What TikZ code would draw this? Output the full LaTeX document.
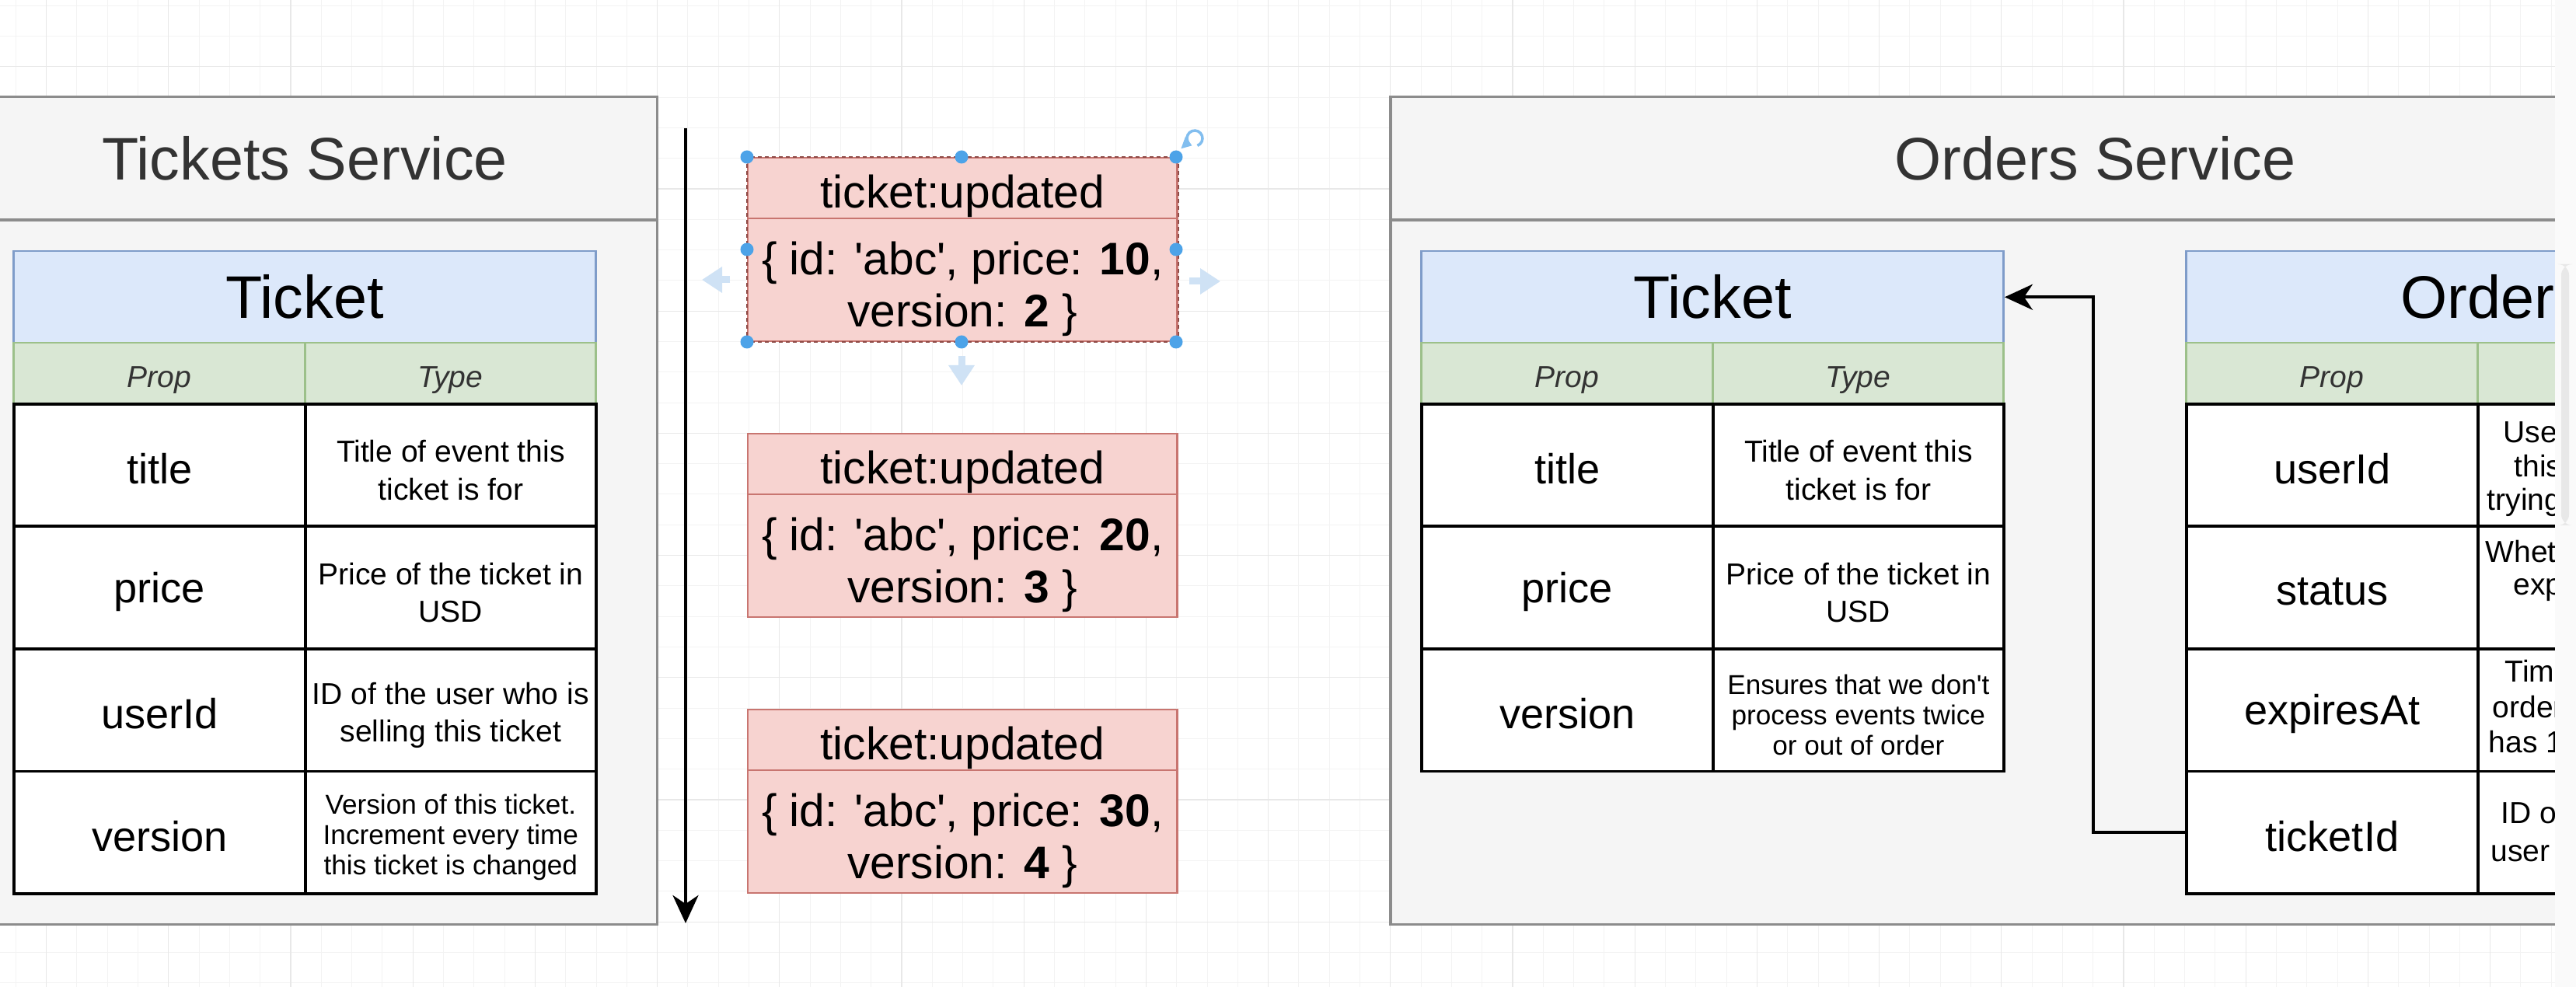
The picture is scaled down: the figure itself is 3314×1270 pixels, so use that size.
\documentclass[tikz,border=0pt]{standalone}
\usepackage{fontspec}
\setmainfont{Liberation Sans}
\usetikzlibrary{arrows.meta}
\newcommand\pxf[2]{\fontsize{#1pt}{#2pt}\selectfont}
\definecolor{svcfill}{HTML}{F5F5F5}
\definecolor{svcline}{HTML}{8C8C8C}
\definecolor{svctext}{HTML}{333333}
\definecolor{headfill}{HTML}{DCE8FA}
\definecolor{headline}{HTML}{7F9CC9}
\definecolor{colfill}{HTML}{D9E7D4}
\definecolor{colline}{HTML}{9CC08A}
\definecolor{evfill}{HTML}{F7D3D0}
\definecolor{evline}{HTML}{C87570}
\definecolor{selline}{HTML}{8E4A46}
\definecolor{gridminor}{HTML}{F3F3F3}
\definecolor{gridmajor}{HTML}{E8E8E8}
\definecolor{handle}{HTML}{4DA3E8}
\definecolor{hover}{HTML}{CFE2F5}
\definecolor{stripfill}{HTML}{FAFAFA}
\definecolor{scrollfill}{HTML}{E8E8E8}
\begin{document}
\begin{tikzpicture}[x=0.01cm,y=-0.01cm,
  svchead/.style={draw=svcline, line width=0.35mm, fill=svcfill, anchor=north west, inner sep=0,
    minimum height=1.58cm, text=svctext, font=\pxf{22}{26}},
  svcbody/.style={draw=svcline, line width=0.35mm, fill=svcfill, anchor=north west, inner sep=0},
  tabhead/.style={draw=headline, line width=0.25mm, fill=headfill, anchor=north west, inner sep=0,
    minimum width=7.49cm, minimum height=1.18cm, text=black, font=\pxf{22}{26}},
  colhead/.style={draw=colline, line width=0.25mm, fill=colfill, anchor=north west, inner sep=0,
    minimum height=0.78cm},
  coltext/.style={inner sep=0, text=svctext, font=\pxf{11.1}{13}\itshape, yshift=-0.085cm},
  propcell/.style={draw=black, line width=0.35mm, fill=white, anchor=north west, inner sep=0,
    minimum width=3.75cm, minimum height=1.575cm},
  desccell/.style={propcell, minimum width=3.74cm},
  proptext/.style={inner sep=0, text=black, font=\pxf{15.4}{18}, yshift=-0.05cm},
  desctext/.style={inner sep=0, text=black, align=center, font=\pxf{11.1}{13.7}, yshift=-0.065cm},
  smalltext/.style={desctext, font=\pxf{10}{11.1}},
  frag/.style={anchor=west, inner sep=0, text=black, font=\pxf{11.1}{12.8}, text height=0.72em, text depth=0.2em, yshift=-0.02cm},
  evhead/.style={draw=evline, line width=0.22mm, fill=evfill, anchor=north west, inner sep=0,
    minimum width=5.52cm, minimum height=0.78cm},
  evbody/.style={evhead, minimum height=1.58cm},
  evheadtext/.style={inner sep=0, text=black, font=\pxf{16.7}{19}, yshift=-0.1cm},
  evbodytext/.style={inner sep=0, text=black, align=center, font=\pxf{16.7}{19.1}, yshift=-0.115cm},
  conn/.style={draw=black, line width=0.4mm, -{Stealth[length=3.6mm,width=3.3mm,inset=1.1mm]}},
  hoverarrow/.style={draw=hover, line width=0.9mm, -{Triangle[length=2.6mm,width=3.2mm]}}
]
\useasboundingbox (0,0) rectangle (3314,1270);
\clip (0,0) rectangle (3314,1270);
\fill[white] (0,0) rectangle (3314,1270);
% grid
\foreach \i in {0,...,83} \draw[gridminor, line width=0.1mm] ({20.3+\i*39.3},0) -- ({20.3+\i*39.3},1270);
\foreach \i in {0,...,32} \draw[gridminor, line width=0.1mm] (0,{7.2+\i*39.3}) -- (3314,{7.2+\i*39.3});
\foreach \i in {0,...,20} \draw[gridmajor, line width=0.12mm] ({59.6+\i*157.2},0) -- ({59.6+\i*157.2},1270);
\foreach \i in {0,...,7} \draw[gridmajor, line width=0.12mm] (0,{85.8+\i*157.2}) -- (3314,{85.8+\i*157.2});

% ---------- Tickets Service ----------
\node[svcbody, minimum width=9.06cm, minimum height=9.06cm] (tsBody) at (-63,281) {};
\node[svchead, minimum width=9.06cm] (tsHead) at (-63,123) {Tickets Service};

\node[tabhead] (tHead) at (16,322) {Ticket};
\node[colhead, minimum width=3.75cm] (tPropH) at (16,440) {};
\node[colhead, minimum width=3.74cm] (tTypeH) at (391,440) {};
\node[coltext] (tPropHt) at (tPropH.center) {Prop};
\node[coltext] (tTypeHt) at (tTypeH.center) {Type};
\node[propcell] (tTitle) at (16,518) {};
\node[desccell] (tTitleD) at (391,518) {};
\node[propcell] (tPrice) at (16,675.5) {};
\node[desccell] (tPriceD) at (391,675.5) {};
\node[propcell] (tUser) at (16,833) {};
\node[desccell] (tUserD) at (391,833) {};
\node[propcell] (tVer) at (16,990.5) {};
\node[desccell] (tVerD) at (391,990.5) {};
\node[proptext] (tTitleT) at (tTitle.center) {title};
\node[desctext] (tTitleDT) at (tTitleD.center) {Title of event this\\ticket is for};
\node[proptext] (tPriceT) at (tPrice.center) {price};
\node[desctext] (tPriceDT) at (tPriceD.center) {Price of the ticket in\\USD};
\node[proptext] (tUserT) at (tUser.center) {userId};
\node[desctext] (tUserDT) at (tUserD.center) {ID of the user who is\\selling this ticket};
\node[proptext] (tVerT) at (tVer.center) {version};
\node[smalltext] (tVerDT) at (tVerD.center) {Version of this ticket.\\Increment every time\\this ticket is changed};

% ---------- Timeline ----------
\coordinate (tlTop) at (882,165);
\coordinate (tlEnd) at (882,1188);
\draw[conn] (tlTop) -- (tlEnd);

% ---------- Events ----------
\node[evhead] (e1h) at (961,202) {};
\node[evbody] (e1b) at (961,280) {};
\node[evhead] (e2h) at (961,557) {};
\node[evbody] (e2b) at (961,635) {};
\node[evhead] (e3h) at (961,912) {};
\node[evbody] (e3b) at (961,990) {};
\node[evheadtext] (e1ht) at (e1h.center) {ticket:updated};
\node[evbodytext] (e1bt) at (e1b.center) {\{ id: \textquotesingle abc\textquotesingle, price: \textbf{10},\\version: \textbf{2} \}};
\node[evheadtext] (e2ht) at (e2h.center) {ticket:updated};
\node[evbodytext] (e2bt) at (e2b.center) {\{ id: \textquotesingle abc\textquotesingle, price: \textbf{20},\\version: \textbf{3} \}};
\node[evheadtext] (e3ht) at (e3h.center) {ticket:updated};
\node[evbodytext] (e3bt) at (e3b.center) {\{ id: \textquotesingle abc\textquotesingle, price: \textbf{30},\\version: \textbf{4} \}};

% selection of the first event
\draw[selline, line width=0.2mm, dash pattern=on 0.5mm off 0.4mm] (e1h.north west) rectangle (e1b.south east);
\foreach \p in {(961,202),(1237,202),(1513,202),(961,321),(1513,321),(961,440),(1237,440),(1513,440)}
  \fill[handle] \p circle (8.5);
\draw[handle!70, line width=0.35mm, -{Triangle[length=1.2mm,width=1.6mm]}] (1537,178) ++(70:10) arc (70:-250:10);
\draw[hoverarrow] (939,360) -- (903,360);
\draw[hoverarrow] (1530,362) -- (1570,362);
\draw[hoverarrow] (1237,458) -- (1237,496);

% ---------- Orders Service ----------
\node[svcbody, minimum width=18.12cm, minimum height=9.06cm] (osBody) at (1787,281) {};
\node[svchead, minimum width=18.12cm] (osHead) at (1787,123) {Orders Service};

\node[tabhead] (oHead) at (1827,322) {Ticket};
\node[colhead, minimum width=3.75cm] (oPropH) at (1827,440) {};
\node[colhead, minimum width=3.74cm] (oTypeH) at (2202,440) {};
\node[coltext] (oPropHt) at (oPropH.center) {Prop};
\node[coltext] (oTypeHt) at (oTypeH.center) {Type};
\node[propcell] (oTitle) at (1827,518) {};
\node[desccell] (oTitleD) at (2202,518) {};
\node[propcell] (oPrice) at (1827,675.5) {};
\node[desccell] (oPriceD) at (2202,675.5) {};
\node[propcell] (oVer) at (1827,833) {};
\node[desccell] (oVerD) at (2202,833) {};
\node[proptext] (oTitleT) at (oTitle.center) {title};
\node[desctext] (oTitleDT) at (oTitleD.center) {Title of event this\\ticket is for};
\node[proptext] (oPriceT) at (oPrice.center) {price};
\node[desctext] (oPriceDT) at (oPriceD.center) {Price of the ticket in\\USD};
\node[proptext] (oVerT) at (oVer.center) {version};
\node[smalltext] (oVerDT) at (oVerD.center) {Ensures that we don\textquotesingle t\\process events twice\\or out of order};

\node[tabhead] (rHead) at (2811,322) {Order};
\node[colhead, minimum width=3.75cm] (rPropH) at (2811,440) {};
\node[colhead, minimum width=3.74cm] (rTypeH) at (3186,440) {};
\node[coltext] (rPropHt) at (rPropH.center) {Prop};
\node[propcell] (rUser) at (2811,518) {};
\node[desccell] (rUserD) at (3186,518) {};
\node[propcell] (rStatus) at (2811,675.5) {};
\node[desccell] (rStatusD) at (3186,675.5) {};
\node[propcell] (rExp) at (2811,833) {};
\node[desccell] (rExpD) at (3186,833) {};
\node[propcell] (rTicketId) at (2811,990.5) {};
\node[desccell] (rTicketIdD) at (3186,990.5) {};
\node[proptext] (rUserT) at (rUser.center) {userId};
\node[proptext] (rStatusT) at (rStatus.center) {status};
\node[proptext] (rExpT) at (rExp.center) {expiresAt};
\node[proptext] (rTicketIdT) at (rTicketId.center) {ticketId};

\node[frag] (f1) at (3220,558) {User};
\node[frag] (f2) at (3234,602) {this};
\node[frag] (f3) at (3199,645) {trying};
\node[frag] (f4) at (3197,712) {Whether};
\node[frag] (f5) at (3233,754) {expired};
\node[frag] (f6) at (3222,866) {Time};
\node[frag] (f7) at (3206,912) {order};
\node[frag] (f8) at (3201,957) {has 15};
\node[frag] (f9) at (3217,1048) {ID of};
\node[frag] (f10) at (3204,1097) {user};

\draw[conn] (rTicketId.west) -- ++(-118,0) |- (oHead.east);

% right edge of the canvas
\fill[stripfill] (3287,0) rectangle (3314,1270);
\fill[scrollfill, rounded corners=4] (3295,340) rectangle (3305,676);
\end{tikzpicture}
\end{document}
